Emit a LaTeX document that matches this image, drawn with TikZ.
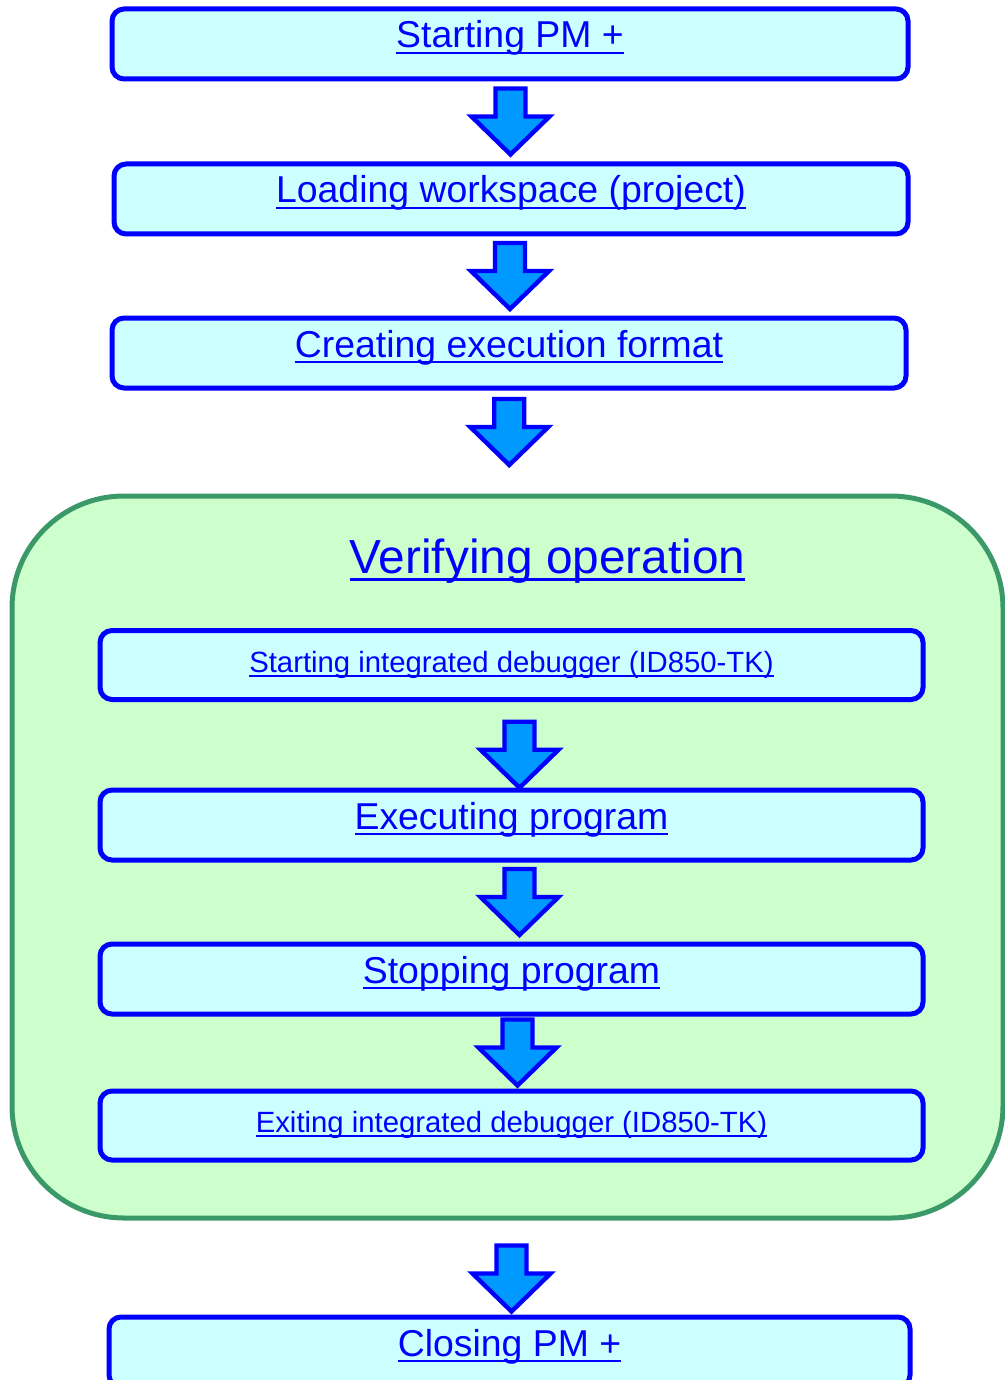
\documentclass[tikz,border=0pt]{standalone}
\usepackage{fontspec}
\setmainfont{Liberation Sans}
\usepackage{tikz}
\usetikzlibrary{calc}
\definecolor{linkblue}{RGB}{0,0,255}
\definecolor{boxcyan}{RGB}{204,255,255}
\definecolor{arrowblue}{RGB}{0,153,255}
\definecolor{stagefill}{RGB}{204,255,204}
\definecolor{stagegreen}{RGB}{59,153,105}
\newsavebox{\linkbox}
\newcommand*{\ulink}[1]{\sbox{\linkbox}{#1}\rlap{\rule[-0.167em]{\wd\linkbox}{0.067em}}\usebox{\linkbox}}
\tikzset{%
  stepbox/.style={draw=linkblue, line width=2.5pt, fill=boxcyan, rounded corners=6pt,
    inner sep=0pt, anchor=base, text=linkblue, font=\fontsize{18.7pt}{22pt}\selectfont,
    text height=19.5pt, text depth=15.5pt},% one step of the flow
  smallbox/.style={stepbox, font=\fontsize{14.65pt}{17pt}\selectfont,
    text height=20.75pt, text depth=13.75pt},% step with the long label
  stage/.style={draw=stagegreen, line width=2.5pt, fill=stagefill, rounded corners=56pt},% group of steps
  stagetitle/.style={inner sep=0pt, anchor=base, text=linkblue,
    font=\fontsize{23.9pt}{28pt}\selectfont},% title of the group
  flow/.style={draw=linkblue, line width=2.2pt, fill=arrowblue}% block arrow between steps
}
\newcommand*{\flowarrow}[3][0,0]{%
  \draw[flow] ($(#2.south)!0.5!(#3.north)+(#1)$) +(-15,-33) -- +(15,-33) -- +(15,-5)
    -- +(39,-5) -- +(0,33) -- +(-39,-5) -- +(-15,-5) -- cycle;}
\begin{document}
\begin{tikzpicture}[x=0.5pt, y=-0.5pt]
\useasboundingbox (0,0) rectangle (1005,1380);

\node[stepbox, minimum width=398pt] (startpm) at (510,48) {\ulink{Starting PM +}};
\node[stepbox, minimum width=397pt] (loadws) at (511,203) {\ulink{Loading workspace (project)}};
\node[stepbox, minimum width=397pt] (mkexec) at (509,357) {\ulink{Creating execution format}};

\node[stage, minimum width=495.5pt, minimum height=361pt] (verify) at (507.5,857) {};
\node[stagetitle] (verifytitle) at (547.5,573) {\ulink{Verifying operation}};

\node[smallbox, minimum width=411.5pt] (startdbg) at (511.5,672) {\ulink{Starting integrated debugger (ID850-TK)}};
\node[stepbox, minimum width=411.5pt] (runprog) at (511.5,829) {\ulink{Executing program}};
\node[stepbox, minimum width=411.5pt] (stopprog) at (511.5,983) {\ulink{Stopping program}};
\node[smallbox, minimum width=411.5pt] (exitdbg) at (511.5,1132.5) {\ulink{Exiting integrated debugger (ID850-TK)}};

\node[stepbox, minimum width=400.5pt] (closepm) at (509.5,1356) {\ulink{Closing PM +}};

\flowarrow{startpm}{loadws}
\flowarrow{loadws}{mkexec}
\flowarrow[1,-10]{mkexec}{verify}
\flowarrow[8,10]{startdbg}{runprog}
\flowarrow[8,0]{runprog}{stopprog}
\flowarrow[6,0]{stopprog}{exitdbg}
\flowarrow[3,11]{verify}{closepm}

\end{tikzpicture}
\end{document}
